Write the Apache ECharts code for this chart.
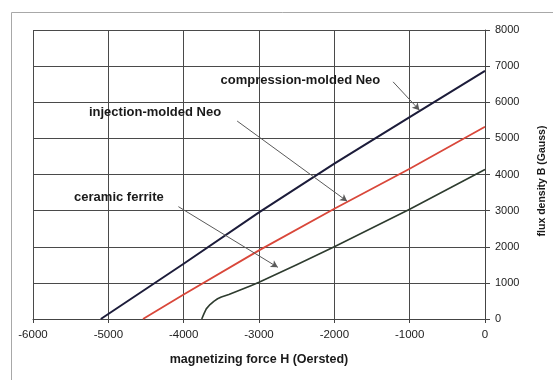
<!DOCTYPE html>
<html>
<head>
<meta charset="utf-8">
<script src="https://cdn.jsdelivr.net/npm/echarts@6/dist/echarts.min.js"></script>
<style>
  html, body { margin: 0; padding: 0; background: #ffffff; }
  #chart { width: 553px; height: 380px; }
</style>
</head>
<body>
<div id="chart"></div>
<script>
// Demagnetization curves: flux density B (Gauss) vs magnetizing force H (Oersted)
const xTicks = [-6000, -5000, -4000, -3000, -2000, -1000, 0];
const yTicks = [0, 1000, 2000, 3000, 4000, 5000, 6000, 7000, 8000];

const compressionH = [-5100, -4000, -3000, -2000, -1000, 0];
const compressionB = [0, 1530, 2950, 4300, 5590, 6870];

const injectionH = [-4540, -4000, -3000, -2000, -1000, 0];
const injectionB = [0, 680, 1900, 3050, 4160, 5320];

const ferriteH = [-3760, -3730, -3700, -3650, -3600, -3550, -3500, -3400, -3300, -3200, -3100, -3000, -2500, -2000, -1000, 0];
const ferriteB = [0, 150, 280, 400, 490, 560, 610, 680, 760, 845, 930, 1015, 1500, 2000, 3040, 4140];

const seriesNames = ['compression-molded Neo', 'injection-molded Neo', 'ceramic ferrite'];

// Callout layout in data coordinates: label centre, arrow start, arrow tip
const callouts = [
  { at: [-2450, 6600], from: [-1220, 6565], to: [-870, 5780] },
  { at: [-4380, 5730], from: [-3290, 5480], to: [-1830, 3260] },
  { at: [-4860, 3360], from: [-4070, 3110], to: [-2750, 1430] }
];

const FONT = '"Liberation Sans", Arial, sans-serif';
const zip = (xs, ys) => xs.map((x, i) => [x, ys[i]]);

function curve(name, xs, ys, color, width, callout) {
  return {
    name: name,
    type: 'line',
    data: zip(xs, ys),
    showSymbol: false,
    smooth: false,
    lineStyle: { color: color, width: width, join: 'round' },
    itemStyle: { color: color },
    silent: true,
    animation: false,
    markPoint: {
      silent: true,
      animation: false,
      symbol: 'circle',
      symbolSize: 1,
      itemStyle: { color: 'rgba(0,0,0,0)' },
      label: {
        show: true,
        position: 'inside',
        formatter: name,
        color: '#1a1a1a',
        fontFamily: FONT,
        fontWeight: 'bold',
        fontSize: 13
      },
      data: [{ coord: callout.at }]
    },
    markLine: {
      silent: true,
      animation: false,
      symbol: ['none', 'arrow'],
      symbolSize: [6, 7],
      label: { show: false },
      lineStyle: { color: '#5a5a5a', width: 1, type: 'solid' },
      data: [[{ coord: callout.from }, { coord: callout.to }]]
    }
  };
}

const chart = echarts.init(document.getElementById('chart'), null, { renderer: 'canvas' });

chart.setOption({
  backgroundColor: '#ffffff',
  animation: false,
  textStyle: { fontFamily: FONT },
  grid: { left: 33, top: 30, width: 452, height: 289, containLabel: false },
  xAxis: {
    type: 'value',
    min: xTicks[0],
    max: xTicks[xTicks.length - 1],
    interval: xTicks[1] - xTicks[0],
    axisLine: { show: true, onZero: false, lineStyle: { color: '#444', width: 1 } },
    axisTick: { show: true, length: 4, lineStyle: { color: '#444' } },
    splitLine: { show: true, lineStyle: { color: '#4a4a4a', width: 1 } },
    axisLabel: {
      margin: 10,
      color: '#222',
      fontSize: 11.5,
      fontFamily: FONT,
      formatter: v => String(v)
    },
    name: 'magnetizing force H (Oersted)',
    nameLocation: 'middle',
    nameGap: 34,
    nameTextStyle: { color: '#1a1a1a', fontSize: 12.5, fontWeight: 'bold', fontFamily: FONT }
  },
  yAxis: {
    type: 'value',
    position: 'right',
    min: yTicks[0],
    max: yTicks[yTicks.length - 1],
    interval: yTicks[1] - yTicks[0],
    axisLine: { show: true, lineStyle: { color: '#444', width: 1 } },
    axisTick: { show: true, length: 5, lineStyle: { color: '#444' } },
    splitLine: { show: true, lineStyle: { color: '#4a4a4a', width: 1 } },
    axisLabel: {
      margin: 10,
      color: '#222',
      fontSize: 11,
      fontFamily: FONT,
      formatter: v => String(v)
    }
  },
  graphic: [
    {
      type: 'rect',
      silent: true,
      shape: { x: 11.5, y: 12.5, width: 600, height: 400 },
      style: { fill: 'none', stroke: '#a8a8a8', lineWidth: 1 }
    },
    {
      type: 'text',
      silent: true,
      x: 542,
      y: 181,
      rotation: Math.PI / 2,
      style: {
        text: 'flux density B (Gauss)',
        fill: '#1a1a1a',
        font: 'bold 10.5px ' + FONT,
        textAlign: 'center',
        textVerticalAlign: 'middle'
      }
    }
  ],
  series: [
    curve(seriesNames[0], compressionH, compressionB, '#1c1c3a', 2, callouts[0]),
    curve(seriesNames[1], injectionH, injectionB, '#d9473a', 1.8, callouts[1]),
    curve(seriesNames[2], ferriteH, ferriteB, '#2e3c2f', 1.6, callouts[2])
  ]
});
</script>
</body>
</html>
